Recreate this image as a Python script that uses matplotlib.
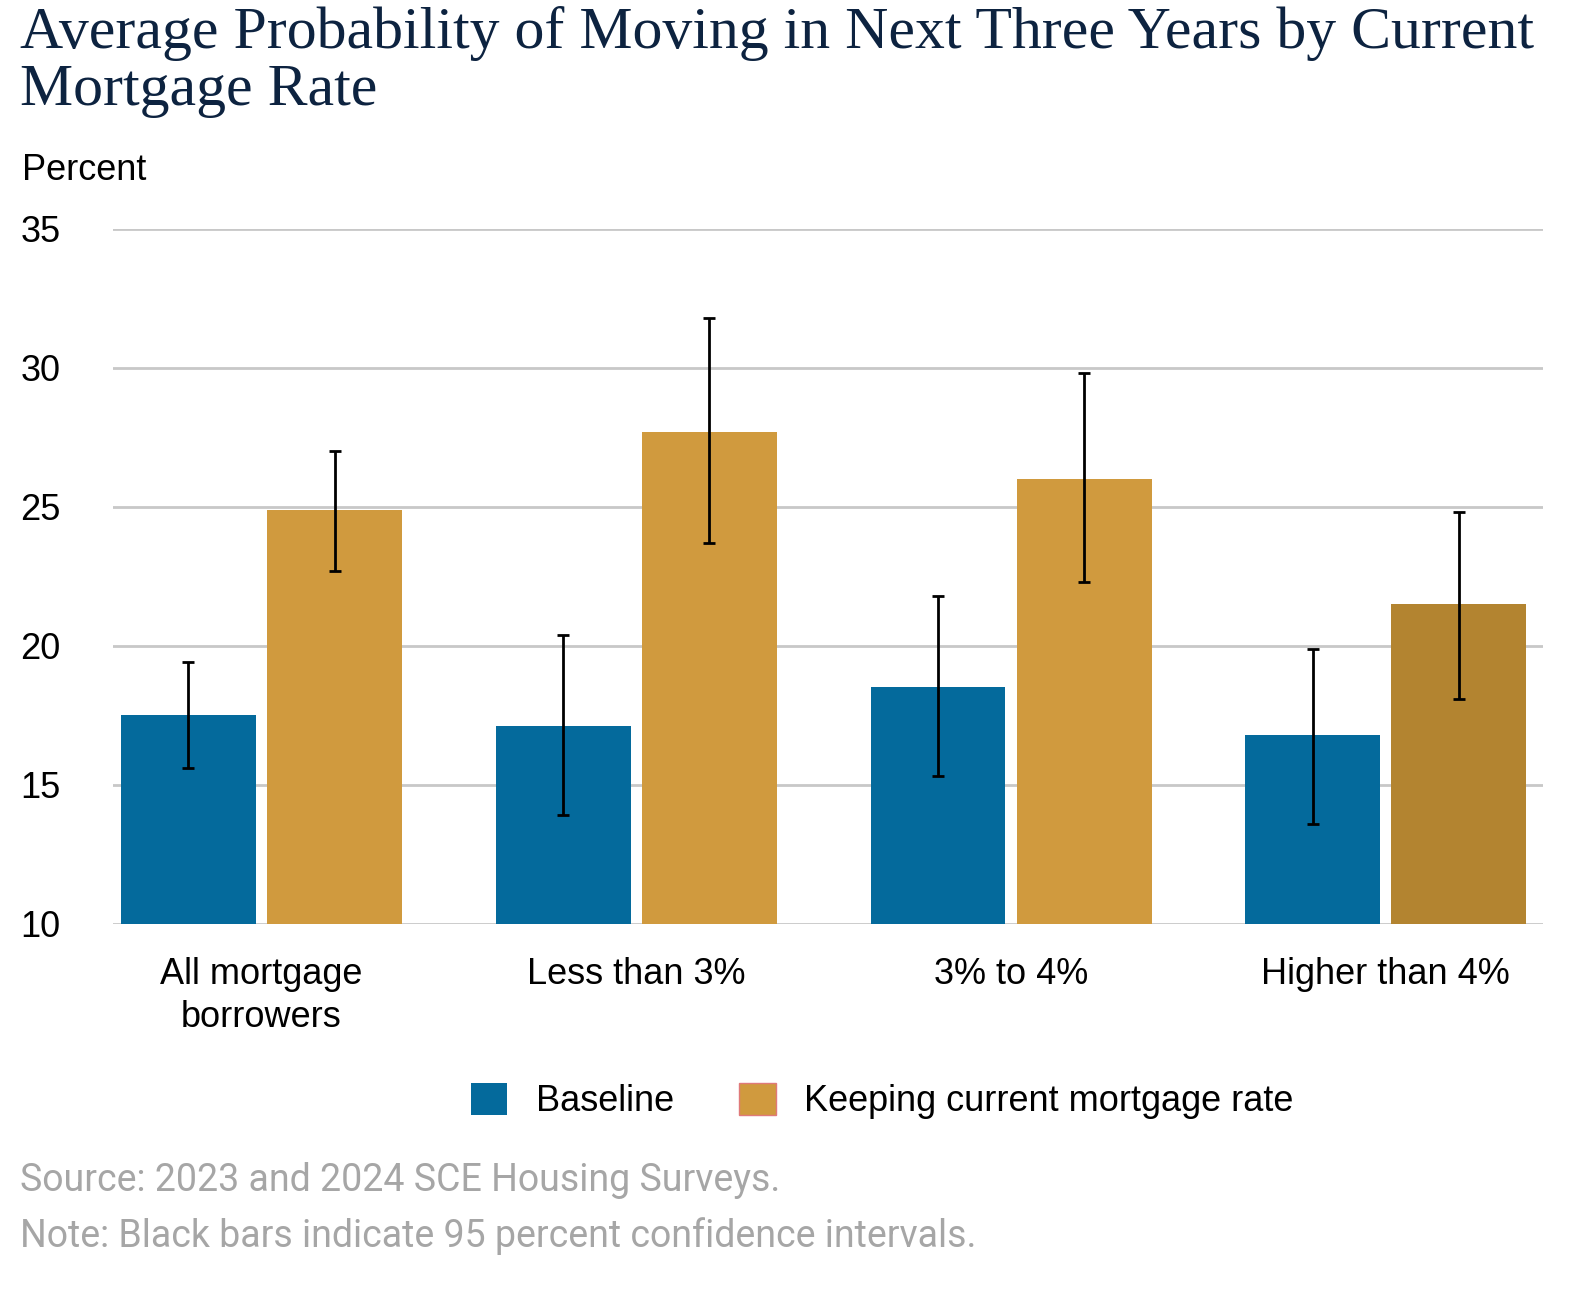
import matplotlib
matplotlib.use("Agg")
import matplotlib.pyplot as plt
import numpy as np
from matplotlib.patches import Patch

categories = ["All mortgage\nborrowers", "Less than 3%", "3% to 4%", "Higher than 4%"]
baseline = [17.5, 17.1, 18.5, 16.8]
baseline_lo = [15.6, 13.9, 15.3, 13.6]
baseline_hi = [19.4, 20.4, 21.8, 19.9]
keeping = [24.9, 27.7, 26.0, 21.5]
keeping_lo = [22.7, 23.7, 22.3, 18.1]
keeping_hi = [27.0, 31.8, 29.8, 24.8]

plt.rcParams['font.family'] = ['Liberation Sans', 'DejaVu Sans']
fig = plt.figure(figsize=(15.76, 12.92), dpi=100)
ax = fig.add_axes([0.072, 0.285, 0.907, 0.538])

x = np.arange(len(categories))
w = 0.36; off = 0.195
blue = "#046a9c"; gold = "#d09a3e"
kcolors = [gold, gold, gold, "#b38430"]
b = np.array(baseline); k = np.array(keeping)
ax.bar(x - off, b - 10, w, bottom=10, color=blue, zorder=2)
ax.bar(x + off, k - 10, w, bottom=10, color=kcolors, zorder=2)
ax.errorbar(x - off, b, yerr=[b - np.array(baseline_lo), np.array(baseline_hi) - b],
            fmt='none', ecolor='black', elinewidth=2, capsize=4, capthick=2, zorder=3)
ax.errorbar(x + off, k, yerr=[k - np.array(keeping_lo), np.array(keeping_hi) - k],
            fmt='none', ecolor='black', elinewidth=2, capsize=4, capthick=2, zorder=3)

ax.set_ylim(10, 35)
ax.set_xlim(-0.395, 3.419)
ax.set_yticks([10, 15, 20, 25, 30, 35])
ax.grid(axis='y', color='#c8c8c8', linewidth=2, zorder=0)
for s in ax.spines.values():
    s.set_visible(False)
ax.tick_params(axis='both', length=0, labelsize=26, colors='black')
ax.tick_params(axis='y', pad=38)
ax.tick_params(axis='x', pad=24)
ax.set_xticks(x)
ax.set_xticklabels(categories, linespacing=1.3)

fig.text(0.013, 0.995, "Average Probability of Moving in Next Three Years by Current\nMortgage Rate",
         family=['Liberation Serif', 'DejaVu Serif'], fontsize=43, color='#0d2340',
         va='top', ha='left', linespacing=1.05)
fig.text(0.014, 0.868, "Percent", fontsize=26, ha='left', va='center')

handles = [Patch(facecolor=blue), Patch(facecolor=gold, edgecolor='#e07a7a')]
fig.legend(handles, ["Baseline", "Keeping current mortgage rate"], loc='center',
           bbox_to_anchor=(0.56, 0.148), ncol=2, frameon=False, fontsize=26,
           handlelength=1.0, handleheight=1.0, columnspacing=1.8, handletextpad=0.8)

fig.text(0.013, 0.086, "Source: 2023 and 2024 SCE Housing Surveys.", family=['Roboto', 'DejaVu Sans'],
         fontsize=27, color='#a6a6a6', ha='left', va='center')
fig.text(0.013, 0.043, "Note: Black bars indicate 95 percent confidence intervals.", family=['Roboto', 'DejaVu Sans'],
         fontsize=27, color='#a6a6a6', ha='left', va='center')

fig.savefig("out.png", dpi=100)
